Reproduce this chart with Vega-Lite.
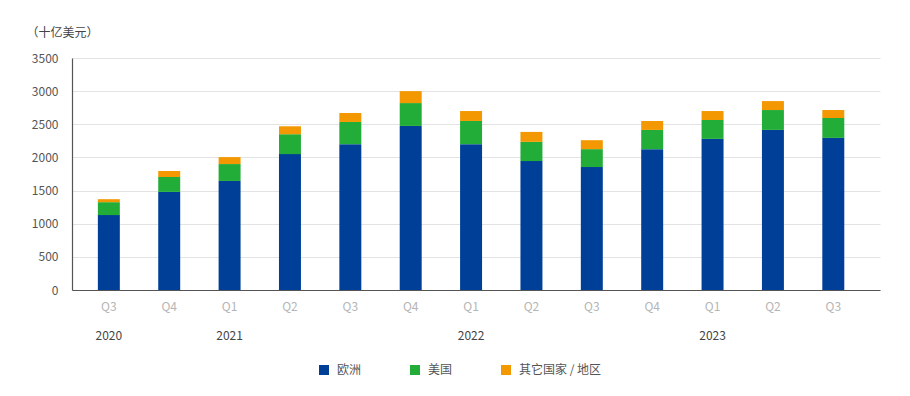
{
  "$schema": "https://vega.github.io/schema/vega-lite/v6.json",
  "width": 808,
  "height": 232,
  "autosize": {"type": "none"},
  "padding": {"left": 72, "top": 58, "right": 30, "bottom": 106},
  "background": "white",
  "config": {
    "font": "Noto Sans CJK SC",
    "view": {"stroke": null}
  },
  "data": {
    "values": [
      {"key": "2020Q3", "region": "欧洲", "o": 1, "value": 1130},
      {"key": "2020Q3", "region": "美国", "o": 2, "value": 195},
      {"key": "2020Q3", "region": "其它国家 / 地区", "o": 3, "value": 45},
      {"key": "2020Q4", "region": "欧洲", "o": 1, "value": 1480},
      {"key": "2020Q4", "region": "美国", "o": 2, "value": 225},
      {"key": "2020Q4", "region": "其它国家 / 地区", "o": 3, "value": 90},
      {"key": "2021Q1", "region": "欧洲", "o": 1, "value": 1645},
      {"key": "2021Q1", "region": "美国", "o": 2, "value": 255},
      {"key": "2021Q1", "region": "其它国家 / 地区", "o": 3, "value": 105},
      {"key": "2021Q2", "region": "欧洲", "o": 1, "value": 2050},
      {"key": "2021Q2", "region": "美国", "o": 2, "value": 300},
      {"key": "2021Q2", "region": "其它国家 / 地区", "o": 3, "value": 120},
      {"key": "2021Q3", "region": "欧洲", "o": 1, "value": 2200},
      {"key": "2021Q3", "region": "美国", "o": 2, "value": 335},
      {"key": "2021Q3", "region": "其它国家 / 地区", "o": 3, "value": 135},
      {"key": "2021Q4", "region": "欧洲", "o": 1, "value": 2475},
      {"key": "2021Q4", "region": "美国", "o": 2, "value": 345},
      {"key": "2021Q4", "region": "其它国家 / 地区", "o": 3, "value": 180},
      {"key": "2022Q1", "region": "欧洲", "o": 1, "value": 2200},
      {"key": "2022Q1", "region": "美国", "o": 2, "value": 350},
      {"key": "2022Q1", "region": "其它国家 / 地区", "o": 3, "value": 150},
      {"key": "2022Q2", "region": "欧洲", "o": 1, "value": 1945},
      {"key": "2022Q2", "region": "美国", "o": 2, "value": 290},
      {"key": "2022Q2", "region": "其它国家 / 地区", "o": 3, "value": 150},
      {"key": "2022Q3", "region": "欧洲", "o": 1, "value": 1855},
      {"key": "2022Q3", "region": "美国", "o": 2, "value": 270},
      {"key": "2022Q3", "region": "其它国家 / 地区", "o": 3, "value": 135},
      {"key": "2022Q4", "region": "欧洲", "o": 1, "value": 2125},
      {"key": "2022Q4", "region": "美国", "o": 2, "value": 290},
      {"key": "2022Q4", "region": "其它国家 / 地区", "o": 3, "value": 135},
      {"key": "2023Q1", "region": "欧洲", "o": 1, "value": 2280},
      {"key": "2023Q1", "region": "美国", "o": 2, "value": 285},
      {"key": "2023Q1", "region": "其它国家 / 地区", "o": 3, "value": 135},
      {"key": "2023Q2", "region": "欧洲", "o": 1, "value": 2415},
      {"key": "2023Q2", "region": "美国", "o": 2, "value": 300},
      {"key": "2023Q2", "region": "其它国家 / 地区", "o": 3, "value": 135},
      {"key": "2023Q3", "region": "欧洲", "o": 1, "value": 2295},
      {"key": "2023Q3", "region": "美国", "o": 2, "value": 300},
      {"key": "2023Q3", "region": "其它国家 / 地区", "o": 3, "value": 120}
    ]
  },
  "resolve": {"axis": {"x": "independent"}},
  "layer": [
    {
      "mark": {"type": "bar"},
      "encoding": {
        "x": {
          "field": "key",
          "type": "nominal",
          "sort": null,
          "scale": {"paddingInner": 0.636, "paddingOuter": 0.51, "align": 0.42},
          "axis": {
            "orient": "bottom",
            "title": null,
            "labelAngle": 0,
            "labelExpr": "slice(datum.value, 4)",
            "labelColor": "#b5b5b5",
            "labelFontSize": 12,
            "labelPadding": 11,
            "ticks": false,
            "domainColor": "#555555",
            "domainWidth": 1.2
          }
        },
        "y": {
          "field": "value",
          "type": "quantitative",
          "stack": "zero",
          "scale": {"domain": [0, 3500]},
          "axis": {
            "values": [0, 500, 1000, 1500, 2000, 2500, 3000, 3500],
            "format": "d",
            "title": "（十亿美元）",
            "titleAngle": 0,
            "titleAlign": "left",
            "titleBaseline": "middle",
            "titleX": -46,
            "titleY": -26,
            "titleFontSize": 12,
            "titleFontWeight": "normal",
            "titleColor": "#444444",
            "labelFontSize": 12,
            "labelColor": "#555555",
            "labelPadding": 14,
            "ticks": false,
            "domainColor": "#555555",
            "domainWidth": 1.2,
            "gridColor": "#e3e3e3",
            "gridWidth": 1
          }
        },
        "color": {
          "field": "region",
          "type": "nominal",
          "sort": ["欧洲", "美国", "其它国家 / 地区"],
          "scale": {
            "domain": ["欧洲", "美国", "其它国家 / 地区"],
            "range": ["#003f98", "#22ad38", "#f39800"]
          },
          "legend": {
            "title": null,
            "orient": "none",
            "direction": "horizontal",
            "legendX": 246,
            "legendY": 306,
            "symbolType": "square",
            "symbolSize": 100,
            "symbolStrokeWidth": 0,
            "labelFontSize": 12,
            "labelColor": "#555555",
            "labelOffset": 7,
            "columnPadding": 47
          }
        },
        "order": {"field": "o", "type": "quantitative"}
      }
    },
    {
      "mark": {"type": "point", "opacity": 0},
      "encoding": {
        "x": {
          "field": "key",
          "type": "nominal",
          "sort": null,
          "axis": {
            "orient": "bottom",
            "title": null,
            "labelAngle": 0,
            "labelExpr": "(datum.value == '2020Q3' || slice(datum.value, 4) == 'Q1') ? slice(datum.value, 0, 4) : ''",
            "labelColor": "#444444",
            "labelFontSize": 12,
            "labelPadding": 40,
            "ticks": false,
            "domain": false,
            "grid": false
          }
        }
      }
    }
  ]
}
